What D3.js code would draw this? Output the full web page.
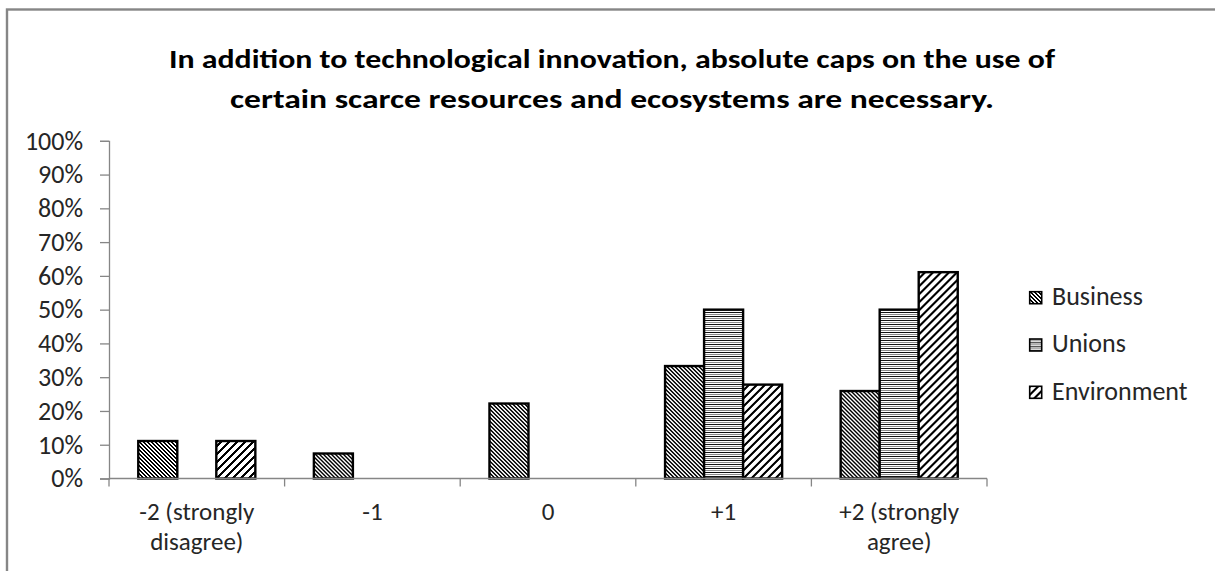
<!DOCTYPE html>
<html>
<head>
<meta charset="utf-8">
<script src="https://cdn.jsdelivr.net/npm/d3@7"></script>
<style>
  body { margin: 0; background: #fff; }
  text { font-family: Carlito, Calibri, Lato, sans-serif; }
</style>
</head>
<body>
<div class="plot1"></div>
<script>
// data (share of respondents)
var categories = ["-2 (strongly\ndisagree)", "-1", "0", "+1", "+2 (strongly\nagree)"];
var seriesNames = ["Business", "Unions", "Environment"];
var business = [0.111, 0.074, 0.222, 0.333, 0.259];
var unions = [0, 0, 0, 0.50, 0.50];
var environment = [0.111, 0, 0, 0.278, 0.611];
var yTicks = [0, 0.1, 0.2, 0.3, 0.4, 0.5, 0.6, 0.7, 0.8, 0.9, 1.0];
var titleLines = ["In addition to technological innovation, absolute caps on the use of",
                  "certain scarce resources and ecosystems are necessary."];

var values = [business, unions, environment];
var patternIds = ["pBusiness", "pUnions", "pEnvironment"];

var width = 1215, height = 571;
var svg = d3.select(".plot1").append("svg")
  .attr("width", width)
  .attr("height", height);

svg.append("rect").attr("width", width).attr("height", height).attr("fill", "#fff");

// patterns
var defs = svg.append("defs");

// Business: fine "\" stripes
var p1 = defs.append("pattern").attr("id", "pBusiness")
  .attr("patternUnits", "userSpaceOnUse").attr("width", 4).attr("height", 4);
p1.append("rect").attr("width", 4).attr("height", 4).attr("fill", "#fff");
for (var y = 0; y < 4; y++) {
  for (var x = 0; x < 4; x++) {
    if (((x - y) % 4 + 4) % 4 < 2) {
      p1.append("rect").attr("x", x).attr("y", y).attr("width", 1).attr("height", 1)
        .attr("fill", "#000").attr("shape-rendering", "crispEdges");
    }
  }
}

// Unions: horizontal lines
var p2 = defs.append("pattern").attr("id", "pUnions")
  .attr("patternUnits", "userSpaceOnUse").attr("width", 4).attr("height", 4);
p2.append("rect").attr("width", 4).attr("height", 4).attr("fill", "#fff");
p2.append("rect").attr("y", 0).attr("width", 4).attr("height", 1).attr("fill", "#111").attr("shape-rendering", "crispEdges");
p2.append("rect").attr("y", 2).attr("width", 4).attr("height", 1).attr("fill", "#8a8a8a").attr("shape-rendering", "crispEdges");

// Environment: wide "/" stripes
var p3 = defs.append("pattern").attr("id", "pEnvironment")
  .attr("patternUnits", "userSpaceOnUse").attr("width", 8).attr("height", 8);
p3.append("rect").attr("width", 8).attr("height", 8).attr("fill", "#fff");
for (var y = 0; y < 8; y++) {
  for (var x = 0; x < 8; x++) {
    if ((x + y) % 8 < 3) {
      p3.append("rect").attr("x", x).attr("y", y).attr("width", 1).attr("height", 1)
        .attr("fill", "#000").attr("shape-rendering", "crispEdges");
    }
  }
}

// chart area border (only top + left visible in the frame)
svg.append("rect")
  .attr("x", 7).attr("y", 9.5)
  .attr("width", 1400).attr("height", 800)
  .attr("fill", "none")
  .attr("stroke", "#868686")
  .attr("stroke-width", 2.4);

// title
svg.append("g").selectAll("text")
  .data(titleLines)
  .enter()
  .append("text")
  .attr("x", 612)
  .attr("y", function(d, i) { return 68 + i * 40; })
  .attr("text-anchor", "middle")
  .attr("font-size", 26)
  .attr("font-weight", "bold")
  .attr("fill", "#000")
  .attr("textLength", function(d, i) { return i === 0 ? 886 : 764; })
  .attr("lengthAdjust", "spacingAndGlyphs")
  .text(function(d) { return d; });

// scales
var x0 = d3.scaleBand()
  .domain(d3.range(categories.length))
  .range([109, 987])
  .paddingInner(0)
  .paddingOuter(0);

var x1 = d3.scaleBand()
  .domain(d3.range(seriesNames.length))
  .range([0, x0.bandwidth()])
  .paddingInner(0)
  .paddingOuter(0.75);

var yScale = d3.scaleLinear()
  .domain([0, 1])
  .range([478.5, 140.8]);

// y axis
var yAxis = d3.axisLeft(yScale)
  .tickValues(yTicks)
  .tickSize(9)
  .tickPadding(17)
  .tickFormat(d3.format(".0%"));

var gy = svg.append("g")
  .attr("transform", "translate(109,0)")
  .call(yAxis);
gy.select(".domain").attr("stroke", "#868686").attr("stroke-width", 1.3);
gy.selectAll(".tick line").attr("stroke", "#868686").attr("stroke-width", 1.3);
gy.selectAll(".tick text")
  .attr("font-size", 26)
  .attr("fill", "#262626")
  .style("font-family", "Carlito, Calibri, Lato, sans-serif");

// bars
var groups = svg.append("g").selectAll("g")
  .data(categories)
  .enter()
  .append("g")
  .attr("transform", function(d, i) { return "translate(" + x0(i) + ",0)"; });

groups.selectAll("rect")
  .data(function(d, i) {
    return seriesNames.map(function(s, j) { return { s: j, v: values[j][i] }; })
      .filter(function(e) { return e.v > 0; });
  })
  .enter()
  .append("rect")
  .attr("x", function(d) { return x1(d.s); })
  .attr("y", function(d) { return yScale(d.v); })
  .attr("width", x1.bandwidth())
  .attr("height", function(d) { return yScale(0) - yScale(d.v); })
  .attr("fill", function(d) { return "url(#" + patternIds[d.s] + ")"; })
  .attr("stroke", "#000")
  .attr("stroke-width", 2.4);

// x axis
var xTickPos = d3.range(categories.length + 1).map(function(i) {
  return i < categories.length ? x0(i) : x0(categories.length - 1) + x0.bandwidth();
});
var gx = svg.append("g");
gx.append("line")
  .attr("x1", 109).attr("x2", 987)
  .attr("y1", yScale(0)).attr("y2", yScale(0))
  .attr("stroke", "#868686").attr("stroke-width", 1.3);
gx.selectAll("line.tick")
  .data(xTickPos)
  .enter()
  .append("line")
  .attr("class", "tick")
  .attr("x1", function(d) { return d; }).attr("x2", function(d) { return d; })
  .attr("y1", yScale(0)).attr("y2", yScale(0) + 8)
  .attr("stroke", "#868686").attr("stroke-width", 1.3);

var catLabels = svg.append("g").selectAll("text")
  .data(categories)
  .enter()
  .append("text")
  .attr("x", function(d, i) { return x0(i) + x0.bandwidth() / 2; })
  .attr("y", 520)
  .attr("text-anchor", "middle")
  .attr("font-size", 25)
  .attr("fill", "#262626");

catLabels.each(function(d) {
  var lines = d.split("\n");
  var t = d3.select(this);
  lines.forEach(function(l, k) {
    t.append("tspan")
      .attr("x", t.attr("x"))
      .attr("dy", k === 0 ? 0 : 30)
      .text(l);
  });
});

// legend
var legend = svg.append("g").selectAll("g")
  .data(seriesNames)
  .enter()
  .append("g")
  .attr("transform", function(d, i) { return "translate(1029," + (291 + i * 47.3) + ")"; });

legend.append("rect")
  .attr("x", 0.7).attr("y", 0.7)
  .attr("width", 12).attr("height", 12)
  .attr("fill", function(d, i) { return "url(#" + patternIds[i] + ")"; })
  .attr("stroke", "#000")
  .attr("stroke-width", 1.6);

legend.append("text")
  .attr("x", 23)
  .attr("y", 14)
  .attr("font-size", 26)
  .attr("fill", "#262626")
  .text(function(d) { return d; });
</script>
</body>
</html>
